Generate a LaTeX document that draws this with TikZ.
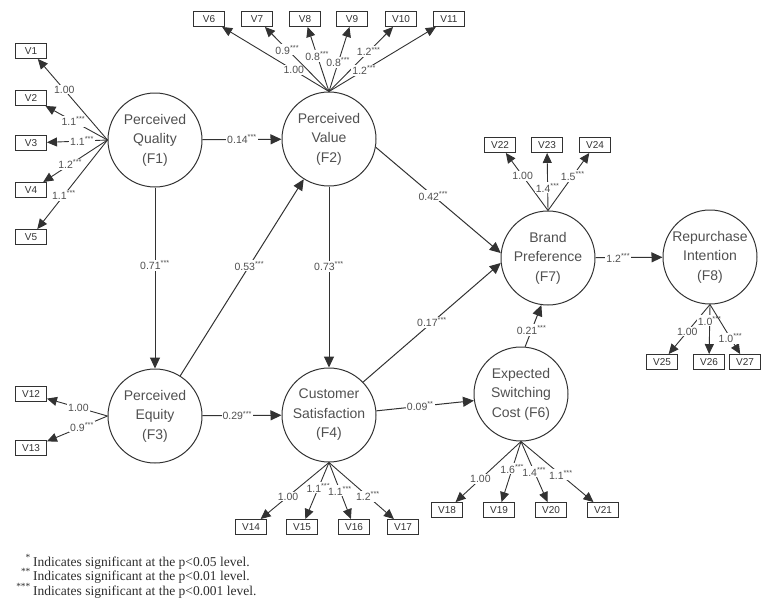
\documentclass[tikz,border=0pt]{standalone}
\usepackage{fontspec}
\setmainfont{Liberation Sans}
\newfontfamily\notefont{Liberation Serif}
\definecolor{edgegray}{RGB}{50, 50, 50}
\definecolor{labelgray}{RGB}{80, 80, 80}
\definecolor{notegray}{RGB}{45, 45, 45}
\usetikzlibrary{arrows.meta}
\newcommand{\est}[2]{#1\textsuperscript{#2}}

\begin{document}
\begin{tikzpicture}[x=1pt, y=-1pt,
  factor/.style={draw=edgegray, line width=1pt, circle, minimum size=94pt, inner sep=0pt, align=center, font=\fontsize{14}{19.5}\selectfont, text=labelgray},
  indicator/.style={draw=edgegray, line width=0.9pt, minimum width=31pt, minimum height=15pt, inner sep=0pt, font=\fontsize{10}{10}\selectfont, text=edgegray},
  link/.style={-{Triangle[length=11pt,width=10pt]}, line width=1pt, draw=edgegray},
  load/.style={-{Triangle[length=10pt,width=9pt]}, line width=0.9pt, draw=edgegray},
  coef/.style={fill=white, inner sep=1pt, font=\fontsize{10.5}{11}\selectfont, text=labelgray},
  note/.style={anchor=base west, inner sep=0pt, font=\notefont\fontsize{13.5}{15}\selectfont, text=notegray}]
  \useasboundingbox (0,0) rectangle (763,603);

  % Latent factors
  \node[factor] (F1) at (155,140) {Perceived\\Quality\\(F1)};
  \node[factor] (F2) at (329,139) {Perceived\\Value\\(F2)};
  \node[factor] (F3) at (155,416) {Perceived\\Equity\\(F3)};
  \node[factor] (F4) at (329,415) {Customer\\Satisfaction\\(F4)};
  \node[factor] (F6) at (521,394) {Expected\\Switching\\Cost (F6)};
  \node[factor] (F7) at (548,258) {Brand\\Preference\\(F7)};
  \node[factor] (F8) at (710,257) {Repurchase\\Intention\\(F8)};

  % Observed variables
  \node[indicator] (V1) at (31,51) {V1};
  \node[indicator] (V2) at (31,98) {V2};
  \node[indicator] (V3) at (31,143) {V3};
  \node[indicator] (V4) at (31,190) {V4};
  \node[indicator] (V5) at (31,237) {V5};
  \node[indicator] (V6) at (209,19) {V6};
  \node[indicator] (V7) at (257,19) {V7};
  \node[indicator] (V8) at (305,19) {V8};
  \node[indicator] (V9) at (352,19) {V9};
  \node[indicator] (V10) at (401,19) {V10};
  \node[indicator] (V11) at (449,19) {V11};
  \node[indicator] (V12) at (31,394) {V12};
  \node[indicator] (V13) at (31,448) {V13};
  \node[indicator] (V14) at (251,527) {V14};
  \node[indicator] (V15) at (302,527) {V15};
  \node[indicator] (V16) at (354,527) {V16};
  \node[indicator] (V17) at (403,527) {V17};
  \node[indicator] (V18) at (447,510) {V18};
  \node[indicator] (V19) at (499,510) {V19};
  \node[indicator] (V20) at (551,510) {V20};
  \node[indicator] (V21) at (603,510) {V21};
  \node[indicator] (V22) at (500,145) {V22};
  \node[indicator] (V23) at (547,145) {V23};
  \node[indicator] (V24) at (595,145) {V24};
  \node[indicator] (V25) at (662,362) {V25};
  \node[indicator] (V26) at (709,362) {V26};
  \node[indicator] (V27) at (745,362) {V27};

  % Loadings
  \draw[load] (F1.west) -- node[coef, pos=0.62] {1.00} (V1);
  \draw[load] (F1.west) -- node[coef, pos=0.55] {\est{1.1}{***}} (V2);
  \draw[load] (F1.west) -- node[coef, pos=0.42] {\est{1.1}{***}} (V3);
  \draw[load] (F1.west) -- node[coef, pos=0.58] {\est{1.2}{***}} (V4);
  \draw[load] (F1.west) -- node[coef, pos=0.62] {\est{1.1}{***}} (V5);

  \draw[load] (F2.north) -- node[coef, pos=0.33] {1.00} (V6);
  \draw[load] (F2.north) -- node[coef, pos=0.65] {\est{0.9}{***}} (V7);
  \draw[load] (F2.north) -- node[coef, pos=0.55] {\est{0.8}{***}} (V8);
  \draw[load] (F2.north) -- node[coef, pos=0.45] {\est{0.8}{***}} (V9);
  \draw[load] (F2.north) -- node[coef, pos=0.62] {\est{1.2}{***}} (V10);
  \draw[load] (F2.north) -- node[coef, pos=0.33] {\est{1.2}{***}} (V11);

  \draw[load] (F3.west) -- node[coef, pos=0.48] {1.00} (V12);
  \draw[load] (F3.west) -- node[coef, pos=0.42] {\est{0.9}{***}} (V13);

  \draw[load] (F4.south) -- node[coef, pos=0.6] {1.00} (V14);
  \draw[load] (F4.south) -- node[coef, pos=0.45] {\est{1.1}{***}} (V15);
  \draw[load] (F4.south) -- node[coef, pos=0.5] {\est{1.1}{***}} (V16);
  \draw[load] (F4.south) -- node[coef, pos=0.6] {\est{1.2}{***}} (V17);

  \draw[load] (F6.south) -- node[coef, pos=0.62] {1.00} (V18);
  \draw[load] (F6.south) -- node[coef, pos=0.45] {\est{1.6}{***}} (V19);
  \draw[load] (F6.south) -- node[coef, pos=0.5] {\est{1.4}{***}} (V20);
  \draw[load] (F6.south) -- node[coef, pos=0.55] {\est{1.1}{***}} (V21);

  \draw[load] (F7.north) -- node[coef, pos=0.6] {1.00} (V22);
  \draw[load] (F7.north) -- node[coef, pos=0.4] {\est{1.4}{***}} (V23);
  \draw[load] (F7.north) -- node[coef, pos=0.6] {\est{1.5}{***}} (V24);

  \draw[load] (F8.south) -- node[coef, pos=0.55] {1.00} (V25);
  \draw[load] (F8.south) -- node[coef, pos=0.33] {\est{1.0}{***}} (V26);
  \draw[load] (F8.south) -- node[coef, pos=0.68] {\est{1.0}{***}} (V27);

  % Structural paths
  \draw[link] (F1) -- node[coef] {\est{0.14}{***}} (F2);
  \draw[link] (F1) -- node[coef, pos=0.43] {\est{0.71}{***}} (F3);
  \draw[link] (F3) -- node[coef, pos=0.56] {\est{0.53}{***}} (F2);
  \draw[link] (F2) -- node[coef, pos=0.44] {\est{0.73}{***}} (F4);
  \draw[link] (F2.-10) -- node[coef, pos=0.46] {\est{0.42}{***}} (F7.174);
  \draw[link] (F4.44) -- node[coef, pos=0.5] {\est{0.17}{***}} (F7.186);
  \draw[link] (F3) -- node[coef, pos=0.44] {\est{0.29}{***}} (F4);
  \draw[link] (F4.5) -- node[coef, pos=0.45] {\est{0.09}{**}} (F6.188);
  \draw[link] (F6.85) -- node[coef, pos=0.4] {\est{0.21}{***}} (F7.262);
  \draw[link] (F7) -- node[coef, pos=0.34] {\est{1.2}{***}} (F8);

  % Significance notes
  \node[note] (note1) at (33,566) {\llap{\textsuperscript{*}\,}Indicates significant at the p<0.05 level.};
  \node[note] (note2) at (33,580) {\llap{\textsuperscript{**}\,}Indicates significant at the p<0.01 level.};
  \node[note] (note3) at (33,595) {\llap{\textsuperscript{***}\,}Indicates significant at the p<0.001 level.};
\end{tikzpicture}
\end{document}
